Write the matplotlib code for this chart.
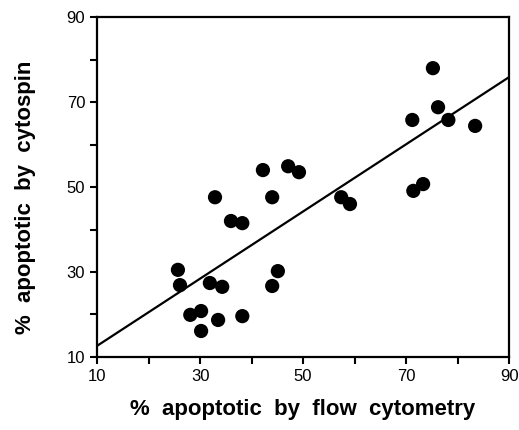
import matplotlib
matplotlib.use("Agg")
import matplotlib.pyplot as plt
from matplotlib.ticker import MultipleLocator

# % apoptotic, flow cytometry (x) vs cytospin (y)
flow = [25.7, 26.1, 28.1, 30.2, 30.2, 31.9, 34.3, 33.5, 32.9, 36.0, 38.2, 38.2,
        42.2, 44.0, 44.0, 45.1, 47.1, 49.2, 57.4, 59.1, 71.2, 71.4, 73.3, 75.2,
        76.2, 78.2, 83.4]
cytospin = [30.5, 26.9, 19.9, 20.8, 16.1, 27.4, 26.5, 18.7, 47.6, 42.0, 41.5, 19.6,
            54.0, 47.6, 26.7, 30.2, 54.9, 53.5, 47.6, 46.0, 65.8, 49.1, 50.7, 78.0,
            68.8, 65.8, 64.4]

# regression line end points
fit_x = [10, 90]
fit_y = [12.6, 75.9]

tick_vals = [10, 30, 50, 70, 90]

plt.rcParams['font.family'] = ['Liberation Sans', 'DejaVu Sans']

fig = plt.figure(figsize=(5.19, 4.30), dpi=100)
ax = fig.add_axes([0.187, 0.170, 0.794, 0.790])

ax.scatter(flow, cytospin, s=105, c="black", edgecolors="none", zorder=3)
ax.plot(fit_x, fit_y, c="black", linewidth=1.6)

ax.set_xlim(10, 90)
ax.set_ylim(10, 90)
ax.set_xticks(tick_vals)
ax.set_yticks(tick_vals)
ax.xaxis.set_minor_locator(MultipleLocator(10))
ax.yaxis.set_minor_locator(MultipleLocator(10))
ax.tick_params(which='both', direction='out', length=5, width=1.5,
               top=False, right=False, labelsize=12)
for sp in ax.spines.values():
    sp.set_linewidth(1.6)

ax.set_xlabel('%  apoptotic  by  flow  cytometry', fontsize=16,
              fontweight='bold', labelpad=11)
ax.set_ylabel('%  apoptotic  by  cytospin', fontsize=16,
              fontweight='bold')
ax.yaxis.set_label_coords(-0.148, 0.47)

fig.savefig("out.png", dpi=100)
